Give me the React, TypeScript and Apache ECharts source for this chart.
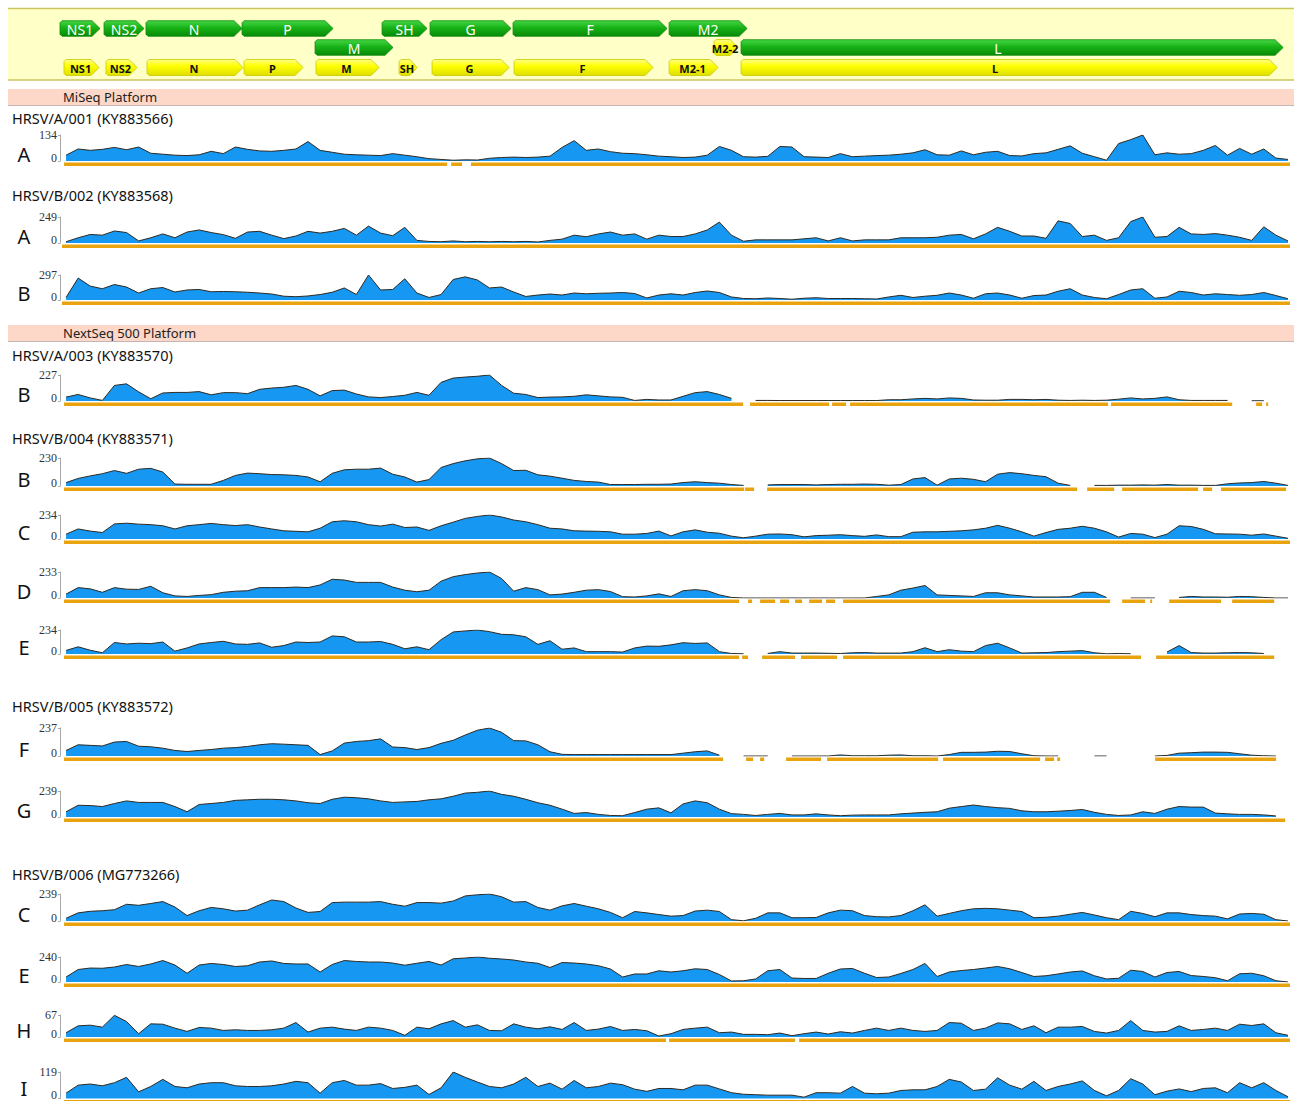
import React, { useEffect, useRef } from "react";
import * as echarts from "echarts";

// ---------------- DATA ----------------
const GENOME_MAX = 15250; // nt, axis extent
const BIN = 150; // coverage bin width (nt)
const BIN_START = 75; // centre of first bin (nt)

// green: gene regions [name, start, end, lane]
const geneRegions: [string, number, number, number][] = [
  ["NS1", 0, 496, 0],
  ["NS2", 546, 1042, 0],
  ["N", 1066, 2257, 0],
  ["P", 2257, 3385, 0],
  ["SH", 3993, 4551, 0],
  ["G", 4588, 5592, 0],
  ["F", 5617, 7527, 0],
  ["M2", 7552, 8519, 0],
  ["M", 3162, 4129, 1],
  ["L", 8444, 15165, 1],
];
// yellow: coding regions [name, start, end, lane]
const cdsRegions: [string, number, number, number][] = [
  ["NS1", 50, 484, 2],
  ["NS2", 570, 955, 2],
  ["N", 1079, 2269, 2],
  ["P", 2282, 3013, 2],
  ["M", 3174, 3956, 2],
  ["SH", 4204, 4427, 2],
  ["G", 4613, 5568, 2],
  ["F", 5630, 7353, 2],
  ["M2-1", 7552, 8159, 2],
  ["M2-2", 8110, 8407, 1],
  ["L", 8444, 15091, 2],
];

const platforms = ["MiSeq Platform", "NextSeq 500 Platform"];
const sampleNames = [
  "HRSV/A/001 (KY883566)",
  "HRSV/B/002 (KY883568)",
  "HRSV/A/003 (KY883570)",
  "HRSV/B/004 (KY883571)",
  "HRSV/B/005 (KY883572)",
  "HRSV/B/006 (MG773266)",
];

const cov001A = [30,62,55,60,70,58,72,40,35,30, 28,32,50,38,72,60,52,50,55,62, 100,55,45,35,32,30,28,38,30,22, 12,8,4,6,5,14,18,20,18,20, 25,70,105,55,62,48,40,38,32,25, 22,18,20,30,75,55,22,20,24,75, 72,22,20,18,38,22,25,28,30,35, 42,58,32,30,52,32,45,50,28,26, 38,42,60,78,40,22,4,90,110,134, 32,42,35,38,55,80,30,65,35,62, 15,8];
const cov002A = [12,50,82,75,115,100,20,50,87,50, 105,125,100,80,45,105,112,75,42,67, 112,95,112,140,75,162,95,70,150,25, 15,12,20,12,15,12,15,12,15,10, 25,37,75,60,87,105,75,87,37,75, 62,62,87,125,200,75,17,30,30,30, 30,40,50,20,50,20,30,30,30,50, 50,50,55,75,82,40,87,150,112,67, 67,45,212,187,62,75,25,50,205,249, 55,62,150,87,82,90,75,55,25,155, 75,20];
const cov002B = [30,260,165,134,184,154,83,134,148,95, 119,125,98,101,98,92,83,71,45,39, 48,65,92,143,65,297,119,125,252,83, 30,65,244,275,238,143,154,95,42,59, 71,59,83,74,80,83,89,77,24,59, 74,59,89,107,89,36,18,15,24,18, 9,21,27,18,18,18,15,12,36,56, 30,45,56,83,59,21,74,83,59,21, 53,59,104,134,59,30,15,65,119,134, 21,36,104,89,59,74,65,56,65,89, 53,15];
const cov003B = [34,57,27,5,136,150,80,20,70,75, 75,82,54,73,73,64,102,113,120,136, 102,45,91,95,61,36,30,39,50,75, 50,163,200,209,216,227,136,68,57,30, 34,36,41,54,45,36,32,5,14,9, 9,41,73,82,57,23,null,5,5,4, 4,4,4,4,4,4,4,4,11,11, 18,23,18,27,23,9,7,7,14,14, 11,14,7,5,7,5,7,16,27,18, 23,36,11,5,5,5,5,null,2,2, null,null];
const cov004B = [28,62,83,101,127,104,138,145,115,16, 14,14,14,46,87,106,101,94,92,87, 74,35,104,133,138,138,147,97,74,32, 53,152,184,207,223,230,184,127,129,92, 81,64,46,37,32,12,12,12,14,14, 16,28,35,28,23,12,5,null,9,12, 12,12,9,12,14,14,16,14,7,12, 58,69,7,58,64,55,35,97,110,101, 87,76,23,5,null,5,5,7,7,9, 7,12,7,7,5,5,18,25,28,37, 23,5];
const cov004C = [47,98,77,63,147,154,145,140,129,98, 129,140,152,140,131,140,117,98,80,75, 70,105,168,178,168,140,126,145,112,117, 84,129,164,201,220,234,215,185,168,140, 105,98,80,77,75,70,47,47,54,77, 30,70,89,66,56,28,12,28,47,49, 42,21,33,37,42,33,26,40,23,23, 66,70,70,75,80,89,105,133,105,70, 28,63,94,105,124,105,70,19,54,47, 14,47,129,122,94,51,49,47,37,49, 28,7];
const cov004D = [35,93,82,51,93,79,77,105,47,19, 14,23,30,51,61,65,93,93,93,98, 93,117,168,161,140,140,140,98,70,56, 70,151,191,210,224,233,175,61,93,75, 28,35,51,70,75,58,12,9,19,37, 14,65,75,65,28,5,0,0,0,0, 0,0,0,0,0,0,0,14,28,70, 89,112,28,23,19,14,47,47,28,19, 9,9,9,12,51,51,5,null,0,0, 0,null,5,14,9,9,7,14,12,5, 0,0];
const cov004E = [35,70,37,12,112,98,105,101,117,28, 59,98,112,124,98,94,108,66,82,117, 112,117,176,168,117,117,122,94,51,70, 42,140,215,225,234,218,192,187,168,94, 129,47,59,23,23,23,19,59,77,75, 89,110,103,108,23,5,2,null,5,23, 9,9,9,7,5,12,14,9,9,9, 23,61,23,42,28,23,82,105,59,9, 12,14,23,28,33,12,2,5,2,null, null,19,82,14,9,9,12,14,12,5, null,null];
const cov005F = [47,95,90,85,118,123,83,78,66,47, 38,47,55,66,71,81,95,104,100,95, 90,12,43,109,123,130,145,76,71,55, 71,107,133,178,218,237,201,130,128,95, 36,14,12,12,12,12,12,12,12,12, 12,24,36,43,7,null,0,0,0,null, 0,0,0,0,9,2,2,2,7,9, 2,2,0,12,31,31,33,40,38,19, 2,0,0,null,null,0,0,null,null,null, 0,5,24,28,33,33,31,19,7,2, 0,null];
const cov005G = [48,108,105,96,124,148,134,134,134,96, 48,115,124,134,153,158,163,163,158,148, 131,124,163,182,177,167,148,134,139,143, 158,167,191,220,227,239,208,191,163,131, 108,72,33,41,24,14,12,41,72,84, 38,120,148,131,72,31,24,14,24,33, 19,19,29,19,12,17,19,19,19,29, 36,43,48,81,96,110,96,86,79,57, 48,48,53,60,69,43,24,14,19,48, 33,72,96,91,91,36,29,24,24,19, 10,null];
const cov006C = [24,72,86,91,100,148,139,155,172,124, 48,91,120,108,88,96,143,186,172,115, 76,84,163,167,167,167,172,148,131,163, 163,158,177,222,232,239,215,167,172,120, 96,134,155,131,108,76,29,84,72,57, 43,48,88,96,84,12,2,24,72,72, 29,29,31,72,96,91,48,38,36,48, 91,143,43,67,91,108,112,108,96,84, 29,33,43,60,76,53,29,12,86,67, 38,72,72,57,48,43,19,62,67,60, 12,0];
const cov006E = [48,120,134,132,144,168,149,173,206,163, 84,163,178,168,149,156,192,202,178,173, 173,96,168,206,197,192,192,182,161,180, 197,163,223,230,240,228,221,211,192,180, 139,187,182,173,156,125,48,77,77,108, 96,108,127,120,72,10,12,29,108,120, 38,34,34,84,125,130,84,43,48,82, 120,178,53,96,110,120,134,149,127,91, 53,60,77,96,106,60,29,36,113,101, 48,91,101,62,53,41,12,79,84,60, 12,0];
const cov006H = [13,34,36,30,66,47,10,40,39,27, 17,29,27,20,22,20,20,22,27,44, 15,27,30,24,20,30,27,20,5,30, 25,40,50,30,37,20,19,40,30,25, 31,23,44,20,24,32,20,23,19,3, 10,23,27,30,13,15,8,8,7,12, 4,10,15,9,16,12,20,27,20,27, 20,17,20,44,42,20,27,43,40,23, 34,13,30,30,32,17,12,20,50,20, 15,17,34,20,23,27,20,39,35,40, 13,5];
const cov006I = [24,60,65,57,71,95,30,54,86,54, 48,65,71,71,57,54,54,57,65,77, 71,24,71,81,60,60,67,45,50,60, 18,48,119,95,74,54,48,65,95,54, 69,42,81,48,54,69,62,42,32,45, 45,39,60,60,43,26,19,17,15,15, 15,6,26,26,24,54,24,21,24,36, 39,39,54,86,74,36,42,93,60,42, 77,36,54,65,79,36,12,36,89,65, 17,33,43,31,45,48,26,71,48,71, 36,8];

// covered regions (orange bars) [start, end] in nt
const seg001A = [[50,4800],[4850,4985],[5095,15250]];
const seg002A = [[25,15250]];
const seg002B = [[25,15250]];
const seg003B = [[50,8470],[8556,9536],[9573,9746],[9796,12995],[13032,14533],[14830,14905],[14954,14979]];
const seg004B = [[50,8482],[8494,8606],[8767,12611],[12735,13070],[13169,14111],[14173,14285],[14396,15202]];
const seg004C = [[50,15250]];
const seg004D = [[50,8420],[8531,8581],[8680,8866],[8928,9040],[9114,9201],[9288,9449],[9498,9610],[9709,13020],[13169,13454],[13516,13541],[13752,14396],[14533,15054]];
const seg004E = [[50,8420],[8457,8531],[8705,9114],[9188,9635],[9709,13404],[13590,15054]];
const seg005F = [[50,8221],[8506,8593],[8680,8730],[9002,9436],[9511,10887],[10949,12152],[12214,12326],[12363,12400],[13578,15078]];
const seg005G = [[50,15190]];
const seg006C = [[50,15250]];
const seg006E = [[50,15250]];
const seg006H = [[50,7514],[7552,9114],[9164,15250]];
const seg006I = [[50,15250]];

const tracks = [
  { sample: 0, letter: "A", max: 134, values: cov001A, segs: seg001A },
  { sample: 1, letter: "A", max: 249, values: cov002A, segs: seg002A },
  { sample: 1, letter: "B", max: 297, values: cov002B, segs: seg002B },
  { sample: 2, letter: "B", max: 227, values: cov003B, segs: seg003B },
  { sample: 3, letter: "B", max: 230, values: cov004B, segs: seg004B },
  { sample: 3, letter: "C", max: 234, values: cov004C, segs: seg004C },
  { sample: 3, letter: "D", max: 233, values: cov004D, segs: seg004D },
  { sample: 3, letter: "E", max: 234, values: cov004E, segs: seg004E },
  { sample: 4, letter: "F", max: 237, values: cov005F, segs: seg005F },
  { sample: 4, letter: "G", max: 239, values: cov005G, segs: seg005G },
  { sample: 5, letter: "C", max: 239, values: cov006C, segs: seg006C },
  { sample: 5, letter: "E", max: 240, values: cov006E, segs: seg006E },
  { sample: 5, letter: "H", max: 67, values: cov006H, segs: seg006H },
  { sample: 5, letter: "I", max: 119, values: cov006I, segs: seg006I },
];

// ---------------- LAYOUT ----------------
const W = 1298;
const H = 1101;
const PLOT_LEFT = 60;
const PLOT_WIDTH = 1230;
const TRACK_TOP = [135, 217, 275, 375, 458, 515, 572, 630, 728, 791, 894, 957, 1015, 1072];
const TRACK_BASE = [161, 243, 300, 401, 486, 539, 598, 654, 756, 817, 921, 982, 1037, 1099];
const SAMPLE_Y = [118, 195, 355, 438, 706, 874];
const BAND_TOP = [89, 325];
const LANE_Y = [20.5, 39.5, 59.5]; // within header grid (top 8)

const SANS = '"Noto Sans", "Open Sans", sans-serif';
const SERIF = '"Liberation Serif", "DejaVu Serif", serif';
const BLUE = "#1597f2";
const ORANGE = "#e8a30f";

function buildOption() {
  const grid: any[] = [{ left: PLOT_LEFT, top: 8, width: PLOT_WIDTH, height: 72 }];
  const xAxis: any[] = [{ gridIndex: 0, type: "value", min: 0, max: GENOME_MAX, show: false }];
  const yAxis: any[] = [{ gridIndex: 0, type: "value", min: 0, max: 72, inverse: true, show: false }];
  const series: any[] = [];

  const headerItems = [
    ...geneRegions.map((g) => ({ name: g[0], start: g[1], end: g[2], lane: g[3], kind: 0 })),
    ...cdsRegions.map((g) => ({ name: g[0], start: g[1], end: g[2], lane: g[3], kind: 1 })),
  ];
  const greenFill = new echarts.graphic.LinearGradient(0, 0, 0, 1, [
    { offset: 0, color: "#45d645" },
    { offset: 0.45, color: "#17b317" },
    { offset: 1, color: "#078a07" },
  ]);
  const yellowFill = new echarts.graphic.LinearGradient(0, 0, 0, 1, [
    { offset: 0, color: "#ffff8a" },
    { offset: 0.4, color: "#ffff00" },
    { offset: 1, color: "#dede00" },
  ]);
  series.push({
    type: "custom",
    xAxisIndex: 0,
    yAxisIndex: 0,
    silent: true,
    data: headerItems.map((h) => [h.start, h.end, LANE_Y[h.lane]]),
    encode: { x: [0, 1], y: 2 },
    renderItem: (params: any, api: any) => {
      const it = headerItems[params.dataIndex];
      const a = api.coord([api.value(0), api.value(2)]);
      const b = api.coord([api.value(1), api.value(2)]);
      const green = it.kind === 0;
      const h = green ? 15.5 : 16;
      const x0 = a[0];
      const x1 = b[0];
      const yc = a[1];
      const tip = Math.min(8, (x1 - x0) * 0.4);
      const pts = [
        [x0 + 2, yc - h / 2],
        [x1 - tip, yc - h / 2],
        [x1, yc],
        [x1 - tip, yc + h / 2],
        [x0 + 2, yc + h / 2],
        [x0, yc + h / 2 - 2],
        [x0, yc - h / 2 + 2],
      ];
      // the long L arrows carry their label left of centre, as in the source
      const labelX = it.name === "L" ? x0 + (x1 - x0) * 0.474 : (x0 + x1) / 2 - (green ? 0 : 1);
      return {
        type: "group",
        children: [
          {
            type: "polygon",
            shape: { points: pts },
            style: {
              fill: green ? greenFill : yellowFill,
              stroke: green ? "#0b8a0b" : "#c9c900",
              lineWidth: 0.8,
            },
          },
          {
            type: "text",
            style: {
              text: it.name,
              x: labelX,
              y: yc + 0.5,
              align: "center",
              verticalAlign: "middle",
              textAlign: "center",
              textVerticalAlign: "middle",
              fill: green ? "#ffffff" : "#111111",
              font: green ? `14px ${SANS}` : `bold 11px ${SANS}`,
            },
          },
        ],
      };
    },
    z: 3,
  });

  tracks.forEach((t, k) => {
    const gi = k + 1;
    grid.push({
      left: PLOT_LEFT,
      top: TRACK_TOP[k],
      width: PLOT_WIDTH,
      height: TRACK_BASE[k] - TRACK_TOP[k],
    });
    xAxis.push({ gridIndex: gi, type: "value", min: 0, max: GENOME_MAX, show: false });
    yAxis.push({
      gridIndex: gi,
      type: "value",
      min: 0,
      max: t.max,
      interval: t.max,
      splitLine: { show: false },
      axisLine: { show: true, lineStyle: { color: "#a8a8a8", width: 1 } },
      axisTick: { show: true, length: 2, lineStyle: { color: "#a8a8a8" } },
      axisLabel: {
        margin: 3,
        color: "#333",
        fontFamily: SERIF,
        fontSize: 12,
        formatter: (v: number) => (v === 0 ? "{b|0}" : "{t|" + v + "}"),
        rich: {
          t: { fontFamily: SERIF, fontSize: 12, color: "#333", padding: [0, 0, 0, 0] },
          b: { fontFamily: SERIF, fontSize: 12, color: "#333", padding: [0, 0, 7, 0] },
        },
      },
    });
    series.push({
      type: "line",
      xAxisIndex: gi,
      yAxisIndex: gi,
      silent: true,
      symbol: "none",
      showSymbol: false,
      connectNulls: false,
      data: t.values.map((v, i) => [BIN_START + i * BIN, v]),
      lineStyle: { color: "#2e2a22", width: 1 },
      areaStyle: { color: BLUE, opacity: 1 },
      z: 2,
    });
    series.push({
      type: "custom",
      xAxisIndex: gi,
      yAxisIndex: gi,
      silent: true,
      clip: false,
      data: t.segs,
      encode: { x: [0, 1] },
      renderItem: (params: any, api: any) => {
        const a = api.coord([api.value(0), 0]);
        const b = api.coord([api.value(1), 0]);
        return {
          type: "rect",
          shape: { x: a[0], y: a[1] + 1.5, width: Math.max(1, b[0] - a[0]), height: 3.5 },
          style: { fill: ORANGE },
        };
      },
      z: 2,
    });
  });

  const graphic: any[] = [
    { type: "rect", shape: { x: 8, y: 8, width: 1286, height: 72 }, style: { fill: "#ffffc8" }, z: 0 },
    { type: "line", shape: { x1: 8, y1: 8.5, x2: 1294, y2: 8.5 }, style: { stroke: "#cbc55e", lineWidth: 1.5 }, z: 1 },
    { type: "line", shape: { x1: 8, y1: 80, x2: 1294, y2: 80 }, style: { stroke: "#cbc55e", lineWidth: 1.5 }, z: 1 },
  ];
  platforms.forEach((p, i) => {
    const y = BAND_TOP[i];
    graphic.push({ type: "rect", shape: { x: 8, y, width: 1286, height: 16 }, style: { fill: "#fdd8c8" }, z: 0 });
    graphic.push({
      type: "line",
      shape: { x1: 8, y1: y + 16.5, x2: 1294, y2: y + 16.5 },
      style: { stroke: "#c4b6b6", lineWidth: 1 },
      z: 1,
    });
    graphic.push({
      type: "text",
      z: 5,
      style: {
        text: p,
        x: 63,
        y: y + 8,
        verticalAlign: "middle",
        textVerticalAlign: "middle",
        fill: "#222",
        font: `13px ${SANS}`,
      },
    });
  });
  sampleNames.forEach((s, i) => {
    graphic.push({
      type: "text",
      z: 5,
      style: {
        text: s,
        x: 12,
        y: SAMPLE_Y[i],
        verticalAlign: "middle",
        textVerticalAlign: "middle",
        fill: "#111",
        font: `14.5px ${SANS}`,
      },
    });
  });
  tracks.forEach((t, k) => {
    graphic.push({
      type: "text",
      z: 5,
      style: {
        text: t.letter,
        x: 24,
        y: Math.min(TRACK_BASE[k] - 6.5, H - 13),
        align: "center",
        textAlign: "center",
        verticalAlign: "middle",
        textVerticalAlign: "middle",
        fill: "#111",
        font: `20px ${SANS}`,
      },
    });
  });

  return { animation: false, backgroundColor: "#ffffff", grid, xAxis, yAxis, series, graphic };
}

export default function App() {
  const ref = useRef<HTMLDivElement>(null);
  useEffect(() => {
    if (!ref.current) return;
    const chart = echarts.init(ref.current, null, { renderer: "svg" });
    chart.setOption(buildOption() as any);
    return () => chart.dispose();
  }, []);
  return (
    <div
      ref={ref}
      style={{ position: "absolute", left: 0, top: 0, width: W, height: H, background: "#fff" }}
    />
  );
}
